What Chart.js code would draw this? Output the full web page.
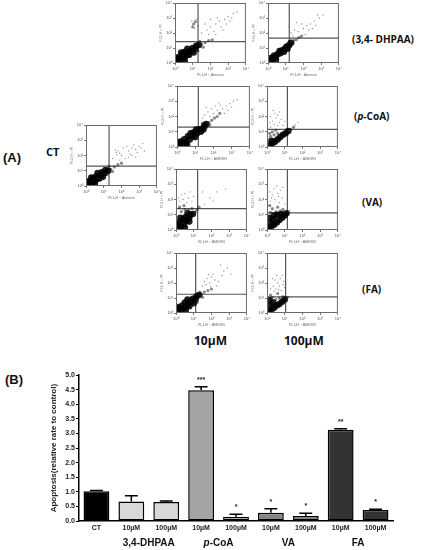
<!DOCTYPE html>
<html>
<head>
<meta charset="utf-8">
<script src="https://cdn.jsdelivr.net/npm/chart.js@4.4.1/dist/chart.umd.min.js"></script>
<style>
  body { margin: 0; background: #fff; }
  #fig { position: relative; width: 421px; height: 550px; overflow: hidden; font-family: "Liberation Sans", Arial, sans-serif; }
  #fig canvas { position: absolute; }
  .lbl { position: absolute; font-weight: bold; color: #111; white-space: nowrap; line-height: 1; }
  .cal { font-family: "Open Sans", "Liberation Sans", sans-serif; }
</style>
</head>
<body>
<div id="fig">
  <div class="lbl" style="left:3px;top:151px;font-size:13px;">(A)</div>
  <div class="lbl cal" style="left:46px;top:146px;font-size:11px;">CT</div>
  <div class="lbl cal" style="left:352px;top:34px;font-size:10px;">(3,4- DHPAA)</div>
  <div class="lbl cal" style="left:354px;top:111px;font-size:10px;">(<i>p</i>-CoA)</div>
  <div class="lbl cal" style="left:362px;top:197px;font-size:10px;">(VA)</div>
  <div class="lbl cal" style="left:362px;top:284px;font-size:10px;">(FA)</div>
  <div class="lbl cal" style="left:194px;top:335px;font-size:12px;">10µM</div>
  <div class="lbl cal" style="left:284px;top:335px;font-size:12px;">100µM</div>
  <div class="lbl" style="left:5px;top:373px;font-size:13px;">(B)</div>
  <canvas id="barChart" width="421" height="180" style="left:0;top:370px;"></canvas>
</div>
<script>
// ---- flow cytometry panels (values in decades, 10^0 .. 10^4) ----
const ctDense = [[0.15,0.1],[0.3,0.2],[0.45,0.3],[0.4,0.5],[0.6,0.45],[0.7,0.65],[0.55,0.6],[0.85,0.7],[0.9,0.9],[1.05,0.85],[1.1,1.05],[0.25,0.35],[0.75,0.5],[1.25,1.0],[0.1,0.3],[0.5,0.15],[0.3,0.55],[0.95,0.6],[0.65,0.85]];
const ctMid = [[1.4,1.1],[1.6,1.25],[1.5,0.95],[1.8,1.4],[1.3,1.3],[2.0,1.5],[1.2,0.75]];
const ctSparse = [[1.7,2.2],[1.8,2.3],[1.75,2.05],[1.9,2.15],[1.65,2.35],[2.4,2.3],[2.6,2.5],[2.8,2.4],[2.5,2.1],[3.0,2.6],[3.1,2.5],[2.7,2.7],[2.2,1.8],[2.4,1.9],[2.6,2.0],[2.9,2.2],[3.2,2.8],[1.9,1.7],[2.1,2.5],[2.3,2.6],[1.5,1.8],[3.3,2.3],[2.0,2.0],[2.8,1.9]];
const ctGate = [1.3, 1.3];

const dhpaa10Dense = [[0.15,0.1],[0.3,0.25],[0.5,0.35],[0.4,0.55],[0.65,0.5],[0.75,0.75],[0.55,0.75],[0.9,0.8],[1.0,1.0],[1.15,0.95],[1.2,1.15],[0.2,0.4],[0.8,0.55],[1.35,1.2],[0.35,0.7],[0.1,0.3],[0.55,0.15],[1.05,0.7],[0.7,0.95]];
const dhpaa10Mid = [[1.5,1.25],[1.7,1.35],[1.6,1.05],[1.9,1.5],[1.4,1.45],[2.1,1.55],[1.3,0.8],[1.05,2.6],[1.15,2.75],[1.0,2.4]];
const dhpaa10Sparse = [[1.2,2.9],[1.1,2.3],[0.95,2.8],[1.3,2.5],[1.8,2.2],[2.0,2.4],[2.3,2.6],[2.5,2.8],[2.8,2.9],[3.0,3.1],[3.3,3.3],[3.5,3.4],[2.2,2.1],[2.6,2.4],[2.9,2.6],[1.7,2.6],[2.0,2.9],[2.4,3.0],[3.1,2.8],[1.9,1.9],[2.7,2.2],[1.5,2.0],[3.2,3.0],[2.3,1.9]];
const dhpaa10Gate = [1.3, 1.42];

const dhpaa100Dense = [[0.15,0.15],[0.3,0.3],[0.45,0.4],[0.55,0.6],[0.7,0.65],[0.8,0.85],[0.95,0.95],[1.05,1.1],[1.2,1.2],[0.35,0.5],[0.65,0.8],[1.3,1.35],[0.9,0.75],[0.2,0.35],[0.45,0.2],[1.1,0.95]];
const dhpaa100Mid = [[1.45,1.5],[1.6,1.55],[1.4,1.3],[1.75,1.7],[1.2,1.45],[1.9,1.8]];
const dhpaa100Sparse = [[1.3,2.0],[1.5,2.2],[1.7,2.1],[2.0,2.3],[2.2,2.5],[2.4,2.6],[2.6,2.8],[2.9,3.0],[3.1,3.2],[1.9,2.6],[2.3,2.2],[2.7,2.5],[1.2,2.4],[1.6,2.7],[2.1,1.9],[2.5,2.3],[2.8,3.2],[1.4,1.8]];
const dhpaa100Gate = [1.2, 1.66];

const pcoa10Dense = [[0.15,0.1],[0.3,0.2],[0.5,0.3],[0.4,0.5],[0.7,0.5],[0.6,0.7],[0.85,0.7],[0.9,0.95],[1.1,0.9],[1.2,1.15],[1.35,1.2],[1.5,1.4],[0.2,0.35],[1.0,0.65],[1.6,1.5],[0.75,0.9],[1.3,1.0],[0.1,0.3],[0.55,0.15],[1.05,1.15],[1.45,1.15]];
const pcoa10Mid = [[1.75,1.6],[1.9,1.75],[2.05,1.9],[2.2,2.0],[1.6,1.25],[1.8,1.45],[2.35,2.2],[1.4,1.55]];
const pcoa10Sparse = [[1.5,2.1],[1.7,2.3],[1.9,2.5],[2.1,2.7],[2.3,2.9],[2.0,2.2],[2.5,2.5],[2.7,2.7],[2.9,2.85],[3.1,3.0],[3.3,3.1],[1.6,2.6],[2.2,2.4],[2.6,2.2],[2.4,2.75],[1.8,2.0],[3.0,2.6],[2.8,2.4],[1.4,1.9]];
const pcoa10Gate = [1.17, 1.3];

const pcoa100Dense = [[0.15,0.1],[0.3,0.25],[0.45,0.35],[0.6,0.5],[0.75,0.65],[0.9,0.8],[1.05,0.9],[1.2,1.05],[0.25,0.4]];
const pcoa100Mid = [[1.35,1.15],[1.5,1.3],[0.2,0.7],[0.4,0.8],[0.6,0.9],[0.3,1.0],[0.5,1.1],[0.15,0.9]];
const pcoa100Sparse = [[0.2,1.3],[0.4,1.5],[0.6,1.4],[0.3,1.7],[0.5,1.9],[0.7,1.6],[0.2,2.0],[0.45,2.2],[0.8,1.8],[0.35,2.4],[0.6,2.1],[0.9,1.4],[0.15,1.6],[0.7,2.3],[1.0,1.7],[1.6,1.45],[1.75,1.6]];
const pcoa100Gate = [1.15, 1.16];

const va10Dense = [[0.15,0.1],[0.3,0.25],[0.2,0.5],[0.45,0.4],[0.4,0.7],[0.6,0.6],[0.55,0.85],[0.75,0.8],[0.8,1.0],[0.95,1.05],[0.25,0.8],[0.65,1.1],[0.1,0.35],[0.5,0.15],[0.75,0.55]];
const va10Mid = [[1.1,1.2],[1.2,1.35],[0.3,1.2],[0.5,1.35],[0.7,1.3],[0.2,1.5],[0.9,1.4],[0.45,1.6],[1.3,1.5]];
const va10Sparse = [[0.2,1.9],[0.4,2.0],[0.6,1.8],[0.3,2.3],[0.7,2.1],[0.9,1.9],[0.5,2.4],[0.8,2.5],[0.15,2.1],[1.0,2.2],[1.6,1.7],[1.9,2.1],[2.3,2.5],[2.8,2.7],[1.5,2.5],[2.1,1.9],[1.2,2.7]];
const va10Gate = [1.22, 1.4];

const va100Dense = [[0.1,0.1],[0.25,0.25],[0.4,0.35],[0.55,0.5],[0.7,0.65],[0.85,0.8],[1.0,0.95],[0.2,0.45],[0.35,0.7],[0.15,0.8],[0.4,0.95],[0.6,1.0],[0.8,1.05],[1.1,1.1]];
const va100Mid = [[0.2,1.15],[0.5,1.2],[0.75,1.25],[0.3,1.4],[0.6,1.5],[0.9,1.35],[0.15,1.6]];
const va100Sparse = [[0.2,1.9],[0.45,2.0],[0.7,1.8],[0.3,2.3],[0.6,2.4],[0.85,2.1],[0.4,2.7],[0.75,2.6],[0.15,2.5],[0.55,2.9],[0.9,2.8],[1.0,1.7],[0.25,2.1],[0.65,2.2],[1.3,1.3]];
const va100Gate = [1.15, 1.12];

const fa10Dense = [[0.1,0.1],[0.3,0.2],[0.45,0.35],[0.35,0.5],[0.6,0.5],[0.7,0.7],[0.5,0.7],[0.85,0.75],[0.95,0.95],[1.1,0.9],[1.15,1.1],[0.2,0.3],[0.75,0.45],[1.3,1.2],[0.1,0.4],[0.55,0.15],[1.0,0.65],[0.65,0.9]];
const fa10Mid = [[1.45,1.25],[1.6,1.4],[1.5,1.05],[1.8,1.5],[1.35,1.4],[2.0,1.6],[1.2,0.7]];
const fa10Sparse = [[1.6,2.1],[1.75,2.3],[1.9,2.0],[2.0,2.4],[2.2,2.2],[1.7,1.9],[2.1,2.6],[1.85,2.55],[2.4,2.1],[2.6,2.5],[2.9,3.0],[2.3,1.8],[1.5,1.8],[2.7,2.8],[2.5,3.2],[1.95,1.75],[3.1,2.6]];
const fa10Gate = [1.11, 1.25];

const fa100Dense = [[0.1,0.1],[0.25,0.2],[0.4,0.35],[0.55,0.5],[0.7,0.6],[0.85,0.75],[1.0,0.9],[0.2,0.5],[0.35,0.7],[0.15,0.85]];
const fa100Mid = [[0.5,0.9],[0.7,1.0],[0.3,1.05],[0.9,1.1],[0.6,1.3],[1.15,1.05],[0.2,1.2]];
const fa100Sparse = [[0.5,1.6],[0.7,1.8],[0.6,2.0],[0.8,1.5],[0.45,2.2],[0.75,2.3],[0.9,1.9],[0.55,2.5],[0.35,1.8],[0.85,2.5],[0.65,1.55],[0.4,1.45],[0.95,2.1],[0.3,2.3],[0.2,1.6],[1.0,1.7]];
const fa100Gate = [1.05, 1.07];

const decadeTicks = ['10⁰', '10¹', '10²', '10³', '10⁴'];

// ---- bar chart (B) ----
const barLabels = ['CT', '10µM', '100µM', '10µM', '100µM', '10µM', '100µM', '10µM', '100µM'];
const barValues = [1.02, 0.67, 0.65, 4.48, 0.15, 0.28, 0.17, 3.13, 0.38];
const barErrors = [0.03, 0.2, 0.04, 0.12, 0.08, 0.14, 0.1, 0.03, 0.02];
const barSig = ['', '', '', '***', '*', '*', '*', '**', '*'];
const barColors = ['#000000', '#d9d9d9', '#d9d9d9', '#a3a3a3', '#a3a3a3', '#858585', '#858585', '#333333', '#333333'];
const groupNames = ['3,4-DHPAA', 'p-CoA', 'VA', 'FA'];
const groupFirstBar = [1, 3, 5, 7];

const fig = document.getElementById('fig');

const boxPlugin = {
    id: 'box',
    afterDraw(c) {
        const a = c.chartArea, x = c.ctx;
        x.save();
        x.strokeStyle = '#6a6a6a';
        x.lineWidth = 1;
        x.strokeRect(a.left + 0.5, a.top + 0.5, a.width - 1, a.height - 1);
        x.restore();
    }
};

function pts(arr) {
    return arr.map(p => ({ x: p[0], y: p[1] }));
}

function makePanel(left, top, w, h, dense, mid, sparse, gate, xTitle) {
    const cv = document.createElement('canvas');
    const padL = 16, padB = 14, padT = 3, padR = 4;
    cv.width = w + padL + padR;
    cv.height = h + padT + padB;
    cv.style.left = (left - padL) + 'px';
    cv.style.top = (top - padT) + 'px';
    fig.appendChild(cv);

    new Chart(cv.getContext('2d'), {
        type: 'scatter',
        data: {
            datasets: [
                { data: pts(sparse), pointRadius: 0.65, backgroundColor: 'rgba(90,90,90,0.7)', pointBorderWidth: 0 },
                { data: pts(mid), pointRadius: 1.6, backgroundColor: 'rgba(20,20,20,0.5)', pointBorderWidth: 0 },
                { data: pts(dense), pointRadius: 3.3, backgroundColor: 'rgba(0,0,0,0.88)', pointBorderWidth: 0 },
                { data: [{ x: gate[0], y: 0 }, { x: gate[0], y: 4 }], showLine: true, pointRadius: 0, borderColor: '#555', borderWidth: 1.2 },
                { data: [{ x: 0, y: gate[1] }, { x: 4, y: gate[1] }], showLine: true, pointRadius: 0, borderColor: '#555', borderWidth: 1.2 }
            ]
        },
        options: {
            responsive: false,
            animation: false,
            layout: { padding: { top: padT, right: padR, left: 0, bottom: 0 } },
            plugins: { legend: { display: false }, tooltip: { enabled: false } },
            scales: {
                x: {
                    type: 'linear', min: 0, max: 4,
                    ticks: { stepSize: 1, font: { size: 4 }, color: '#555', padding: 1, maxRotation: 0,
                             callback: v => decadeTicks[v] },
                    grid: { drawOnChartArea: false, tickLength: 2, color: '#777' },
                    border: { display: false },
                    title: { display: true, text: xTitle, font: { size: 3.5 }, color: '#666', padding: 0 },
                    afterFit(s) { s.height = padB; }
                },
                y: {
                    type: 'linear', min: 0, max: 4,
                    ticks: { stepSize: 1, font: { size: 4 }, color: '#555', padding: 1,
                             callback: v => decadeTicks[v] },
                    grid: { drawOnChartArea: false, tickLength: 2, color: '#777' },
                    border: { display: false },
                    title: { display: true, text: 'FL2-H :: PI', font: { size: 3.5 }, color: '#666', padding: 0 },
                    afterFit(s) { s.width = padL; }
                }
            }
        },
        plugins: [boxPlugin]
    });
}

makePanel(86, 124, 71, 62, ctDense, ctMid, ctSparse, ctGate, 'FL1-H :: Annexin');
makePanel(175, 2, 71, 61, dhpaa10Dense, dhpaa10Mid, dhpaa10Sparse, dhpaa10Gate, 'FL1-H :: Annexin');
makePanel(268, 2, 71, 61, dhpaa100Dense, dhpaa100Mid, dhpaa100Sparse, dhpaa100Gate, 'FL1-H :: Annexin');
makePanel(177, 85, 73, 62, pcoa10Dense, pcoa10Mid, pcoa10Sparse, pcoa10Gate, 'FL1-H :: ANEXIN');
makePanel(267, 85, 71, 62, pcoa100Dense, pcoa100Mid, pcoa100Sparse, pcoa100Gate, 'FL1-H :: ANEXIN');
makePanel(176, 168, 71, 62, va10Dense, va10Mid, va10Sparse, va10Gate, 'FL1-H :: ANEXIN');
makePanel(267, 168, 71, 62, va100Dense, va100Mid, va100Sparse, va100Gate, 'FL1-H :: ANEXIN');
makePanel(176, 252, 71, 61, fa10Dense, fa10Mid, fa10Sparse, fa10Gate, 'FL1-H :: ANEXIN');
makePanel(267, 252, 71, 61, fa100Dense, fa100Mid, fa100Sparse, fa100Gate, 'FL1-H :: ANEXIN');

// error bars, significance stars and group names
const barExtras = {
    id: 'barExtras',
    afterDatasetsDraw(c) {
        const ctx = c.ctx, meta = c.getDatasetMeta(0), y = c.scales.y;
        ctx.save();
        ctx.strokeStyle = '#000';
        ctx.fillStyle = '#222';
        ctx.lineWidth = 1.5;
        ctx.textAlign = 'center';
        meta.data.forEach((bar, i) => {
            const top = y.getPixelForValue(barValues[i] + barErrors[i]);
            const hw = bar.width * 0.25;
            ctx.beginPath();
            ctx.moveTo(bar.x, bar.y);
            ctx.lineTo(bar.x, top);
            ctx.moveTo(bar.x - hw, top);
            ctx.lineTo(bar.x + hw, top);
            ctx.stroke();
            if (barSig[i]) {
                ctx.font = 'bold 7px "Liberation Sans", Arial, sans-serif';
                ctx.fillText(barSig[i], bar.x, top - 5);
            }
        });
        // group names under the tick labels
        ctx.fillStyle = '#111';
        ctx.textBaseline = 'middle';
        const gy = c.height - 7;
        groupNames.forEach((g, k) => {
            const i = groupFirstBar[k];
            const cx = (meta.data[i].x + meta.data[i + 1].x) / 2;
            if (g.startsWith('p-')) {
                ctx.font = 'italic bold 10px "Liberation Sans", Arial, sans-serif';
                const w1 = ctx.measureText('p').width;
                ctx.font = 'bold 10px "Liberation Sans", Arial, sans-serif';
                const w2 = ctx.measureText(g.slice(1)).width;
                const x0 = cx - (w1 + w2) / 2;
                ctx.textAlign = 'left';
                ctx.font = 'italic bold 10px "Liberation Sans", Arial, sans-serif';
                ctx.fillText('p', x0, gy);
                ctx.font = 'bold 10px "Liberation Sans", Arial, sans-serif';
                ctx.fillText(g.slice(1), x0 + w1, gy);
                ctx.textAlign = 'center';
            } else {
                ctx.font = 'bold 10px "Liberation Sans", Arial, sans-serif';
                ctx.fillText(g, cx, gy);
            }
        });
        ctx.restore();
    }
};

new Chart(document.getElementById('barChart').getContext('2d'), {
    type: 'bar',
    data: {
        labels: barLabels,
        datasets: [{
            data: barValues,
            backgroundColor: barColors,
            borderColor: '#000',
            borderWidth: 1.5,
            borderSkipped: false,
            barPercentage: 0.74,
            categoryPercentage: 1
        }]
    },
    options: {
        responsive: false,
        animation: false,
        layout: { padding: { top: 4, right: 28, left: 48, bottom: 15 } },
        plugins: { legend: { display: false }, tooltip: { enabled: false } },
        scales: {
            x: {
                offset: true,
                grid: { display: false, drawTicks: false },
                border: { color: '#000', width: 1.5 },
                ticks: { font: { size: 7, weight: 'bold' }, color: '#222', padding: 3, maxRotation: 0 },
                afterFit(s) { s.height = 14; }
            },
            y: {
                min: 0, max: 5,
                ticks: { stepSize: 0.5, font: { size: 7, weight: 'bold' }, color: '#222', padding: 1,
                         callback: v => v.toFixed(1) },
                grid: { drawOnChartArea: false, tickLength: 3, color: '#000' },
                border: { color: '#000', width: 1.5 },
                title: { display: true, text: 'Apoptosis(relative rate to control)',
                         font: { size: 8, weight: 'bold' }, color: '#222', padding: 1 },
                afterFit(s) { s.width = 31; }
            }
        }
    },
    plugins: [barExtras]
});
</script>
</body>
</html>
